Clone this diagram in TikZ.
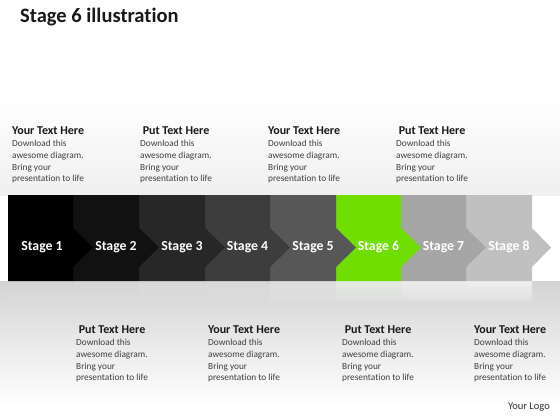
\documentclass[tikz,border=0pt]{standalone}
\usepackage{fontspec}
\setmainfont{Carlito}[Ligatures=NoCommon]
\usetikzlibrary{positioning}
\definecolor{stgA}{HTML}{000000}
\definecolor{stgB}{HTML}{111111}
\definecolor{stgC}{HTML}{272727}
\definecolor{stgD}{HTML}{3D3D3D}
\definecolor{stgE}{HTML}{575757}
\definecolor{stgF}{HTML}{70DE00}
\definecolor{stgG}{HTML}{A6A6A6}
\definecolor{stgH}{HTML}{C0C0C0}
\definecolor{bodygray}{HTML}{404040}
\begin{document}
\begin{tikzpicture}[x=1pt, y=-1pt,
    stagelabel/.style={text=white, font=\fontsize{13.8}{15}\selectfont\bfseries, inner sep=0pt},
    headtext/.style={text=black!90, font=\fontsize{12}{14}\selectfont\bfseries, inner sep=0pt},
    bodytext/.style={text=bodygray, font=\fontsize{9.3}{11.7}\selectfont, align=left, inner sep=0pt, anchor=north west},
    reflect/.style={draw=none}]
                \useasboundingbox (0, 0) rectangle (560, 420);
                \fill[white] (0, 0) rectangle (560, 420);
                \shade[top color=white, bottom color=black!6] (0, 100) rectangle (560, 195);
                \shade[top color=black!17, bottom color=white] (0, 281) rectangle (560, 405);

                % title
                \node[anchor=base west, inner sep=0pt, font=\fontsize{20.5}{24}\selectfont\bfseries, text=black!90] (title) at (20, 23) {Stage 6 illustration};

                % reflections
                \shade[reflect, top color=stgA!30!black!17, bottom color=black!14] (8, 281) rectangle (73, 300);
                \shade[reflect, top color=stgB!30!black!17, bottom color=black!14] (73, 281) rectangle (139, 300);
                \shade[reflect, top color=stgC!30!black!16, bottom color=black!14] (139, 281) rectangle (205, 300);
                \shade[reflect, top color=stgD!30!black!16, bottom color=black!14] (205, 281) rectangle (270, 300);
                \shade[reflect, top color=stgE!30!black!15, bottom color=black!13] (270, 281) rectangle (336, 300);
                \shade[reflect, top color=stgF!40!black!12, bottom color=black!13] (336, 281) rectangle (401, 300);
                \shade[reflect, top color=stgG!40!black!10, bottom color=black!12] (401, 281) rectangle (466, 300);
                \shade[reflect, top color=stgH!40!black!9, bottom color=black!12] (466, 281) rectangle (532, 300);

                % stages, last first
                \fill[stgH] (466, 195) -- (532, 195) -- (532, 228) -- (551, 247.5) -- (532, 267) -- (532, 281) -- (466, 281) -- cycle;
                \fill[stgG] (401, 195) -- (466, 195) -- (466, 228) -- (486, 247.5) -- (466, 267) -- (466, 281) -- (401, 281) -- cycle;
                \fill[stgF] (336, 195) -- (401, 195) -- (401, 228) -- (421, 247.5) -- (401, 267) -- (401, 281) -- (336, 281) -- cycle;
                \fill[stgE] (270, 195) -- (336, 195) -- (336, 228) -- (356, 247.5) -- (336, 267) -- (336, 281) -- (270, 281) -- cycle;
                \fill[stgD] (205, 195) -- (270, 195) -- (270, 228) -- (290, 247.5) -- (270, 267) -- (270, 281) -- (205, 281) -- cycle;
                \fill[stgC] (139, 195) -- (205, 195) -- (205, 228) -- (225, 247.5) -- (205, 267) -- (205, 281) -- (139, 281) -- cycle;
                \fill[stgB] (73, 195) -- (139, 195) -- (139, 228) -- (159, 247.5) -- (139, 267) -- (139, 281) -- (73, 281) -- cycle;
                \fill[stgA] (8, 195) -- (73, 195) -- (73, 228) -- (93, 247.5) -- (73, 267) -- (73, 281) -- (8, 281) -- cycle;

                \node[stagelabel] (s1) at (42, 247) {Stage 1};
                \node[stagelabel] (s2) at (116, 247) {Stage 2};
                \node[stagelabel] (s3) at (182, 247) {Stage 3};
                \node[stagelabel] (s4) at (247.5, 247) {Stage 4};
                \node[stagelabel] (s5) at (313, 247) {Stage 5};
                \node[stagelabel] (s6) at (378.5, 247) {Stage 6};
                \node[stagelabel] (s7) at (443.5, 247) {Stage 7};
                \node[stagelabel] (s8) at (509, 247) {Stage 8};

                % upper texts
                \node[bodytext] (t1) at (12, 140) {Download this\\awesome diagram.\\Bring your\\presentation to life};
                \node[headtext, above=5pt of t1] (h1) {Your Text Here};
                \node[bodytext] (t2) at (140, 140) {Download this\\awesome diagram.\\Bring your\\presentation to life};
                \node[headtext, above=5pt of t2] (h2) {Put Text Here};
                \node[bodytext] (t3) at (268, 140) {Download this\\awesome diagram.\\Bring your\\presentation to life};
                \node[headtext, above=5pt of t3] (h3) {Your Text Here};
                \node[bodytext] (t4) at (396, 140) {Download this\\awesome diagram.\\Bring your\\presentation to life};
                \node[headtext, above=5pt of t4] (h4) {Put Text Here};

                % lower texts
                \node[bodytext] (b1) at (76, 339) {Download this\\awesome diagram.\\Bring your\\presentation to life};
                \node[headtext, above=5pt of b1] (g1) {Put Text Here};
                \node[bodytext] (b2) at (208, 339) {Download this\\awesome diagram.\\Bring your\\presentation to life};
                \node[headtext, above=5pt of b2] (g2) {Your Text Here};
                \node[bodytext] (b3) at (342, 339) {Download this\\awesome diagram.\\Bring your\\presentation to life};
                \node[headtext, above=5pt of b3] (g3) {Put Text Here};
                \node[bodytext] (b4) at (474, 339) {Download this\\awesome diagram.\\Bring your\\presentation to life};
                \node[headtext, above=5pt of b4] (g4) {Your Text Here};

                \node[anchor=base east, inner sep=0pt, font=\fontsize{10.5}{12}\selectfont, text=black!80] (logo) at (550, 409) {Your Logo};
            \end{tikzpicture}
\end{document}
